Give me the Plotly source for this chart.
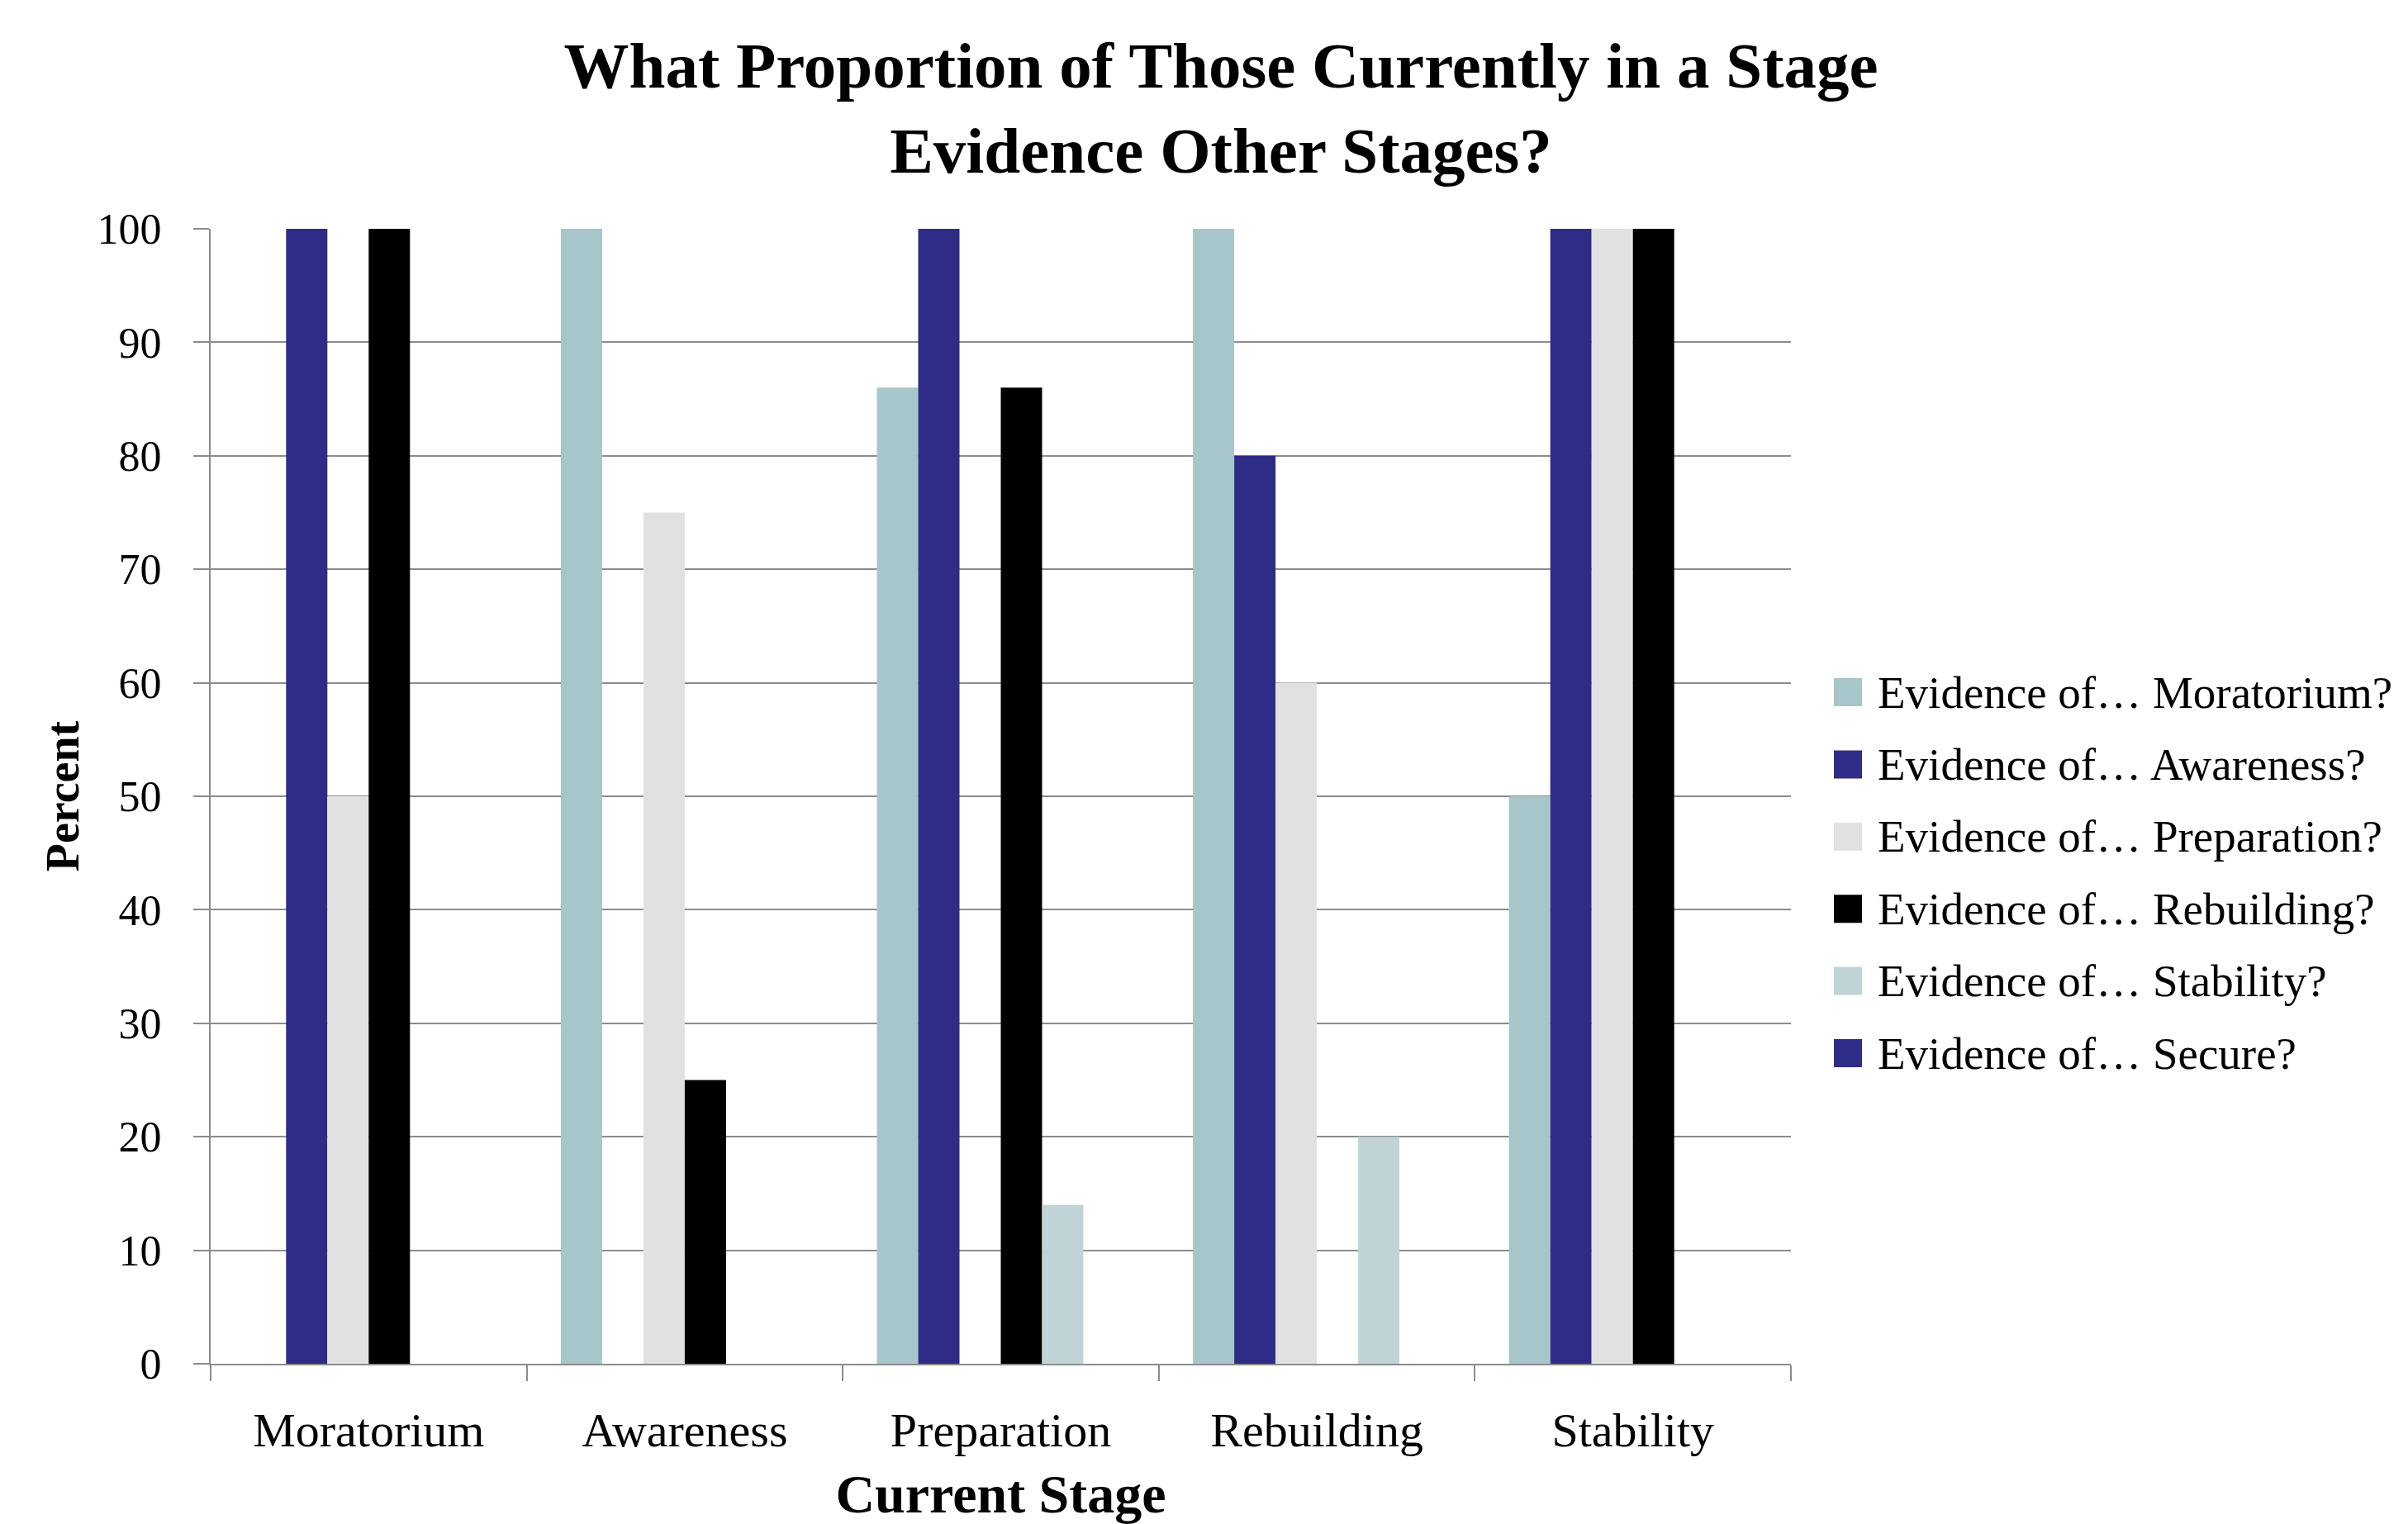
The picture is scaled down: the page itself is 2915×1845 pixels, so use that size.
import plotly.graph_objects as go

categories = ["Moratorium", "Awareness", "Preparation", "Rebuilding", "Stability"]
series_names = [
    "Evidence of… Moratorium?",
    "Evidence of… Awareness?",
    "Evidence of… Preparation?",
    "Evidence of… Rebuilding?",
    "Evidence of… Stability?",
    "Evidence of… Secure?",
]
ev_moratorium = [0, 100, 86, 100, 50]
ev_awareness = [100, 0, 100, 80, 100]
ev_preparation = [50, 75, 0, 60, 100]
ev_rebuilding = [100, 25, 86, 0, 100]
ev_stability = [0, 0, 14, 20, 0]
ev_secure = [0, 0, 0, 0, 0]
series_values = [ev_moratorium, ev_awareness, ev_preparation, ev_rebuilding, ev_stability, ev_secure]
colors = ["#A6C6C9", "#2E2C86", "#E1E1E1", "#000000", "#C0D4D7", "#2E2C86"]
y_ticks = [0, 10, 20, 30, 40, 50, 60, 70, 80, 90, 100]

FONT = "Liberation Serif"
W, H = 2915, 1845
L, R, T, B = 255, 2168, 277, 1651
PW, PH = R - L, B - T

fig = go.Figure()
for name, vals, col in zip(series_names, series_values, colors):
    fig.add_trace(go.Bar(x=categories, y=vals, name=name, marker_color=col,
                         marker_line_width=0, showlegend=False))

# custom legend (large square swatches)
shapes = []
annotations = []
for i, (name, col) in enumerate(zip(series_names, colors)):
    cy = 838 + i * 87.4
    shapes.append(dict(type="rect", xref="paper", yref="paper",
                       x0=(2220 - L) / PW, x1=(2254 - L) / PW,
                       y0=(B - (cy + 17)) / PH, y1=(B - (cy - 17)) / PH,
                       fillcolor=col, line_width=0))
    annotations.append(dict(xref="paper", yref="paper", x=(2271 - L) / PW,
                            y=(B - cy) / PH, xanchor="left", yanchor="middle",
                            text=name, showarrow=False,
                            font=dict(family=FONT, size=55, color="#000000")))

fig.update_layout(
    width=W, height=H,
    margin=dict(l=L, r=W - R, t=T, b=H - B, autoexpand=False),
    paper_bgcolor="white", plot_bgcolor="white",
    barmode="group", bargap=0.216, bargroupgap=0,
    title=dict(text="<b>What Proportion of Those Currently in a Stage<br>Evidence Other Stages?</b>",
               x=1478 / W, xanchor="center", y=1 - 106 / H, yanchor="middle",
               font=dict(family=FONT, size=79, color="#000000")),
    font=dict(family=FONT, color="#000000"),
    shapes=shapes,
    annotations=annotations,
)
fig.update_xaxes(
    showline=True, linecolor="#8C8C8C", linewidth=2,
    ticks="outside", tickson="boundaries", ticklen=19, tickwidth=2, tickcolor="#8C8C8C",
    tickfont=dict(family=FONT, size=58), ticklabelstandoff=28,
    showgrid=False,
    title=dict(text="<b>Current Stage</b>", font=dict(family=FONT, size=66), standoff=30),
)
fig.update_yaxes(
    range=[0, 100], tickvals=y_ticks,
    showline=True, linecolor="#8C8C8C", linewidth=2,
    ticks="outside", ticklen=19, tickwidth=2, tickcolor="#8C8C8C",
    tickfont=dict(family=FONT, size=52), ticklabelstandoff=28,
    showgrid=True, gridcolor="#8C8C8C", gridwidth=2, zeroline=False,
    title=dict(text="<b>Percent</b>", font=dict(family=FONT, size=56), standoff=4),
)

fig.write_html("out.html")
